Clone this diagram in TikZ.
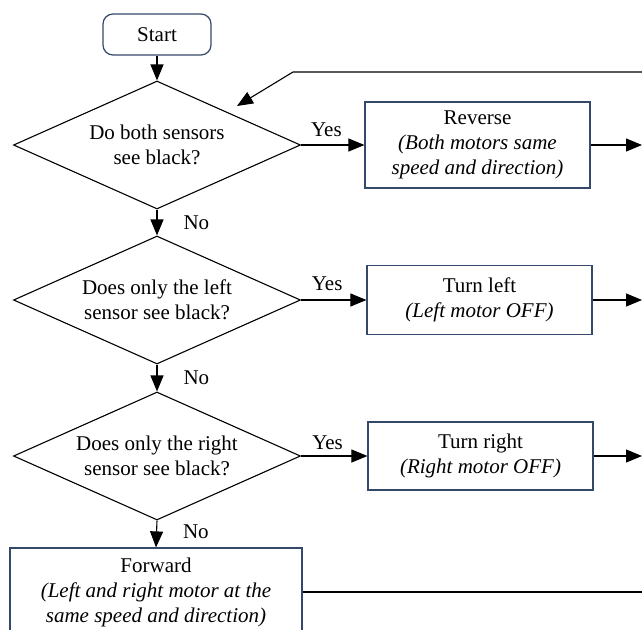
\documentclass[tikz,border=0pt]{standalone}
\usepackage{fontspec}
\setmainfont{Liberation Serif}
\usetikzlibrary{arrows.meta,shapes.geometric}
\definecolor{boxblue}{RGB}{52,72,105}
\begin{document}
\begin{tikzpicture}[x=1pt,y=-1pt,
  every node/.style={font=\fontsize{21}{25}\selectfont},
  decision/.style={draw=black, line width=1.1pt, diamond, aspect=2.24, minimum width=287pt, minimum height=128pt, inner sep=0pt, align=center},
  procbox/.style={draw=boxblue, line width=1.2pt, rectangle, align=center, inner sep=0pt},
  startbox/.style={procbox, rounded corners=10pt},
  flow/.style={line width=1.1pt, -{Triangle[length=16pt,width=13pt]}},
  plain/.style={line width=1.1pt},
  lbl/.style={inner sep=0pt}
]
\useasboundingbox (0,0) rectangle (642,629);
\node[startbox, minimum width=108pt, minimum height=41pt] (start) at (157,34.5) {Start};
\node[decision] (d1) at (157,145) {Do both sensors\\see black?};
\node[decision] (d2) at (157,300) {Does only the left\\sensor see black?};
\node[decision] (d3) at (157,456) {Does only the right\\sensor see black?};
\node[procbox, minimum width=225pt, minimum height=86pt] (rev) at (477.5,145) {Reverse\\\textit{(Both motors same}\\\textit{speed and direction)}};
\node[procbox, minimum width=225pt, minimum height=69pt] (tl) at (479.5,300) {Turn left\\\textit{(Left motor OFF)}};
\node[procbox, minimum width=225pt, minimum height=68pt] (tr) at (480.5,456) {Turn right\\\textit{(Right motor OFF)}};
\node[procbox, minimum width=292pt, minimum height=88pt] (fwd) at (156,592) {Forward\\\textit{(Left and right motor at the}\\\textit{same speed and direction)}};
\coordinate (edge) at (642,0);
\coordinate (lpA) at (642,72);
\coordinate (lpB) at (293,72);
\coordinate (lpC) at (237,106);
\draw[flow] (start.south) -- (d1.north);
\draw[flow] (d1.south) -- node[lbl, midway, anchor=west, xshift=26pt]{No} (d2.north);
\draw[flow] (d2.south) -- node[lbl, midway, anchor=west, xshift=26pt]{No} (d3.north);
\draw[flow] (d3.south) -- node[lbl, midway, anchor=west, xshift=26pt, yshift=2pt]{No} (fwd.north);
\draw[flow] (d1.east) -- node[lbl, pos=0.4, yshift=15pt]{Yes} (rev.west);
\draw[flow] (d2.east) -- node[lbl, pos=0.4, yshift=16pt]{Yes} (tl.west);
\draw[flow] (d3.east) -- node[lbl, pos=0.4, yshift=13pt]{Yes} (tr.west);
\draw[flow] (rev.east) -- (rev.east -| edge);
\draw[flow] (tl.east) -- (tl.east -| edge);
\draw[flow] (tr.east) -- (tr.east -| edge);
\draw[plain] (fwd.east) -- (fwd.east -| edge);
\draw[flow] (lpA) -- (lpB) -- (lpC);
\end{tikzpicture}
\end{document}
